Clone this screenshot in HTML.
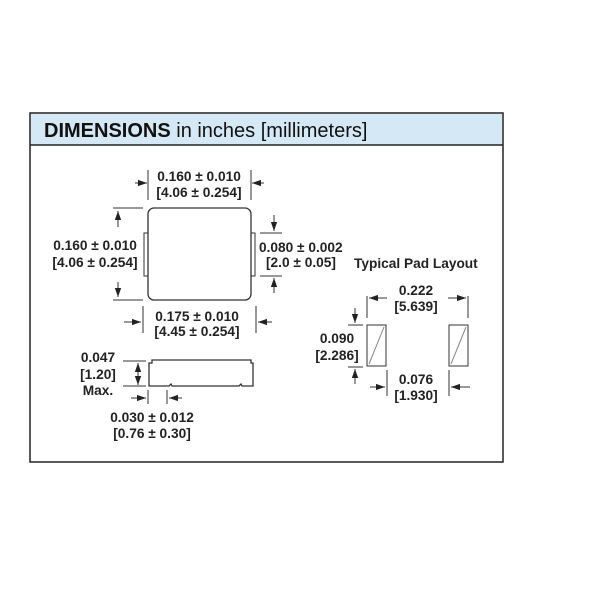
<!DOCTYPE html>
<html><head><style>
body{margin:0;background:#fff;}
svg{display:block;}
text{font-family:"Liberation Sans",sans-serif;font-weight:bold;font-size:13.7px;fill:#222;}
</style></head><body>
<svg width="600" height="600" viewBox="0 0 600 600" xmlns="http://www.w3.org/2000/svg">
<defs>
<marker id="a" viewBox="0 0 10 10" refX="10" refY="5" markerWidth="9" markerHeight="9" orient="auto"><path d="M0,1.5 L10,5 L0,8.5 z" fill="#222"/></marker>
</defs>
<rect x="30" y="113" width="473" height="349" fill="#fff" stroke="#222" stroke-width="1.5"/>
<rect x="31" y="114" width="471" height="31" fill="#d5e8f5"/>
<line x1="30" y1="145" x2="503" y2="145" stroke="#222" stroke-width="1.5"/>
<text x="44" y="137" style="font-size:20px;font-weight:bold;fill:#111">DIMENSIONS<tspan style="font-weight:normal"> in inches [millimeters]</tspan></text>
<g stroke="#333" stroke-width="1" fill="none">
<rect x="144" y="233" width="5" height="43" fill="#fff"/>
<rect x="250" y="233" width="5" height="43" fill="#fff"/>
<rect x="148" y="208" width="103" height="92" rx="6" fill="#fff" stroke-width="1.3"/>
<line x1="148" y1="170" x2="148" y2="200"/><line x1="251" y1="170" x2="251" y2="200"/>
<line x1="135" y1="183" x2="147" y2="183" marker-end="url(#a)"/>
<line x1="264" y1="183" x2="252" y2="183" marker-end="url(#a)"/>
<line x1="113" y1="208" x2="143" y2="208"/><line x1="113" y1="300" x2="143" y2="300"/>
<line x1="118" y1="227" x2="118" y2="211" marker-end="url(#a)"/>
<line x1="118" y1="282" x2="118" y2="297" marker-end="url(#a)"/>
<line x1="260" y1="233" x2="282" y2="233"/><line x1="260" y1="276" x2="282" y2="276"/>
<line x1="274" y1="215" x2="274" y2="231" marker-end="url(#a)"/>
<line x1="274" y1="293" x2="274" y2="278" marker-end="url(#a)"/>
<line x1="143" y1="306" x2="143" y2="333"/><line x1="256" y1="306" x2="256" y2="333"/>
<line x1="124" y1="322" x2="141" y2="322" marker-end="url(#a)"/>
<line x1="272" y1="322" x2="258" y2="322" marker-end="url(#a)"/>
<path d="M149,386 L149,363 L152,363 L152,360 L251,360 L251,363 L253,363 L253,386 L242,386 L241,384 L239,386 L172,386 L171,384 L169,386 Z" fill="#fff" stroke-width="1.3"/>
<line x1="123" y1="361" x2="146" y2="361"/><line x1="123" y1="386" x2="146" y2="386"/>
<line x1="138" y1="374" x2="138" y2="363" marker-end="url(#a)"/>
<line x1="138" y1="374" x2="138" y2="385" marker-end="url(#a)"/>
<line x1="148" y1="390" x2="148" y2="404"/><line x1="167" y1="390" x2="167" y2="404"/>
<line x1="131" y1="398" x2="146" y2="398" marker-end="url(#a)"/>
<line x1="182" y1="398" x2="169" y2="398" marker-end="url(#a)"/>
<rect x="367" y="325" width="19" height="41" fill="#fff"/>
<rect x="449" y="325" width="19" height="41" fill="#fff"/>
<line x1="369" y1="364" x2="384" y2="327" stroke="#888"/>
<line x1="451" y1="364" x2="466" y2="327" stroke="#888"/>
<line x1="367" y1="296" x2="367" y2="318"/><line x1="468" y1="296" x2="468" y2="318"/>
<line x1="387" y1="298" x2="369" y2="298" marker-end="url(#a)"/>
<line x1="448" y1="298" x2="466" y2="298" marker-end="url(#a)"/>
<line x1="348" y1="325" x2="363" y2="325"/><line x1="348" y1="367" x2="363" y2="367"/>
<line x1="355" y1="308" x2="355" y2="323" marker-end="url(#a)"/>
<line x1="355" y1="384" x2="355" y2="369" marker-end="url(#a)"/>
<line x1="387" y1="370" x2="387" y2="396"/><line x1="449" y1="370" x2="449" y2="396"/>
<line x1="370" y1="387" x2="385" y2="387" marker-end="url(#a)"/>
<line x1="470" y1="387" x2="451" y2="387" marker-end="url(#a)"/>
</g>
<g text-anchor="middle">
<text x="199" y="181">0.160 ± 0.010</text><text x="199" y="197">[4.06 ± 0.254]</text>
<text x="95" y="250">0.160 ± 0.010</text><text x="95" y="267">[4.06 ± 0.254]</text>
<text x="197" y="321">0.175 ± 0.010</text><text x="197" y="336">[4.45 ± 0.254]</text>
<text x="98" y="362">0.047</text><text x="98" y="379">[1.20]</text><text x="98" y="395">Max.</text>
<text x="152" y="422">0.030 ± 0.012</text><text x="152" y="438">[0.76 ± 0.30]</text>
<text x="416" y="295">0.222</text><text x="416" y="311">[5.639]</text>
<text x="337" y="343">0.090</text><text x="337" y="360">[2.286]</text>
<text x="416" y="384">0.076</text><text x="416" y="400">[1.930]</text>
</g>
<text x="259" y="252">0.080 ± 0.002</text><text x="266" y="267">[2.0 ± 0.05]</text>
<text x="354" y="268">Typical Pad Layout</text>
</svg>
</body></html>
